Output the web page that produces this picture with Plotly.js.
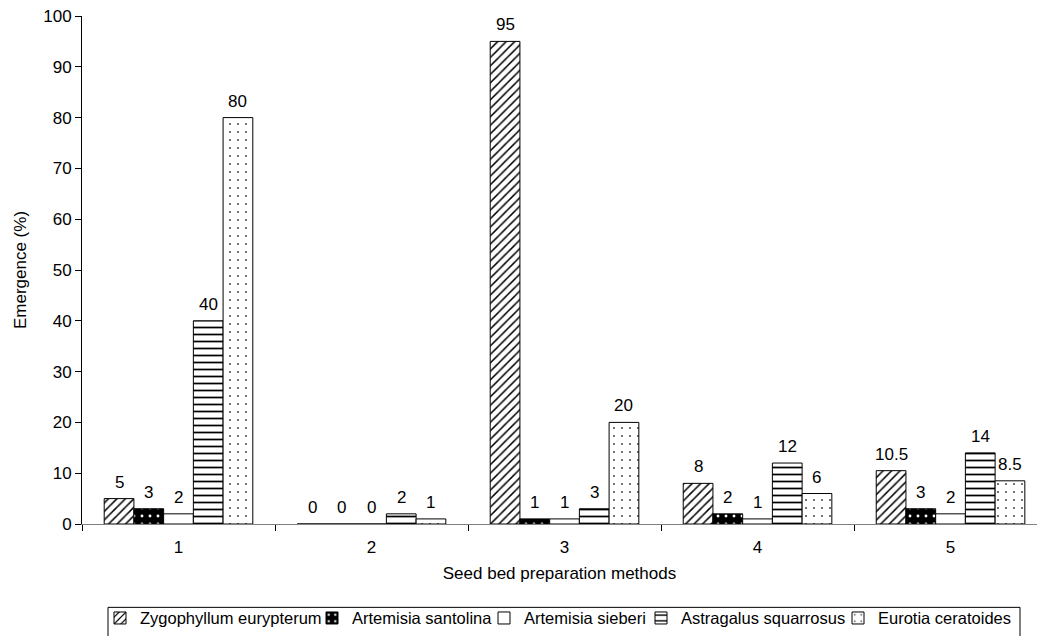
<!DOCTYPE html>
<html>
<head>
<meta charset="utf-8">
<script src="https://cdn.plot.ly/plotly-3.0.1.min.js"></script>
<style>html,body{margin:0;padding:0;background:#fff;}#chart{width:1037px;height:636px;}</style>
</head>
<body>
<div id="chart"></div>
<script>
const categories = ["1", "2", "3", "4", "5"];
const zygophyllum = [5, 0, 95, 8, 10.5];
const santolina = [3, 0, 1, 2, 3];
const sieberi = [2, 0, 1, 1, 2];
const astragalus = [40, 2, 3, 12, 14];
const eurotia = [80, 1, 20, 6, 8.5];
const seriesNames = ["Zygophyllum eurypterum", "Artemisia santolina", "Artemisia sieberi", "Astragalus squarrosus", "Eurotia ceratoides"];
const seriesValues = [zygophyllum, santolina, sieberi, astragalus, eurotia];

const patterns = [
  {shape: "/", fgcolor: "#000", bgcolor: "#fff", size: 6, solidity: 0.25},
  {shape: ".", fgcolor: "#fff", bgcolor: "#000", size: 8, solidity: 0.1},
  {shape: "", fgcolor: "#000", bgcolor: "#fff"},
  {shape: "-", fgcolor: "#000", bgcolor: "#fff", size: 7, solidity: 0.25},
  {shape: ".", fgcolor: "#444", bgcolor: "#fff", size: 8, solidity: 0.05}
];

const font = "Liberation Sans, Arial, sans-serif";

// layout geometry
const W = 1037, H = 636;
const mL = 82, mR = 0, mT = 16, mB = 108;
const plotW = W - mL - mR, plotH = H - mT - mB;
const pxToPaperX = px => (px - mL) / plotW;
const pxToPaperY = py => (H - mB - py) / plotH;
const bargap = 0.23;
const xRange = [-0.5, 4.448];
const catPx = plotW / (xRange[1] - xRange[0]);
const barPx = catPx * (1 - bargap) / seriesValues.length;

// legend symbol left edges (px) for the separate legends
const legendSymbolLeft = [114, 326, 498, 655, 852];
const legendNames = ["legend", "legend2", "legend3", "legend4", "legend5"];

const traces = seriesValues.map((vals, i) => ({
  type: "bar",
  name: seriesNames[i],
  x: categories,
  y: vals,
  legend: legendNames[i],
  marker: {
    color: "#fff",
    line: {color: "#000", width: 1},
    pattern: patterns[i]
  },
  hoverinfo: "x+y+name"
}));

const annotations = [];
seriesValues.forEach((vals, i) => {
  vals.forEach((v, j) => {
    annotations.push({
      x: j, y: v, xref: "x", yref: "y",
      text: String(v), showarrow: false,
      xanchor: "center", yanchor: "bottom",
      xshift: (i - (seriesValues.length - 1) / 2) * barPx,
      yshift: 5,
      font: {family: font, size: 17, color: "#000"}
    });
  });
});

const layout = {
  width: W,
  height: H,
  margin: {l: mL, r: mR, t: mT, b: mB},
  paper_bgcolor: "#fff",
  plot_bgcolor: "#fff",
  font: {family: font, size: 17, color: "#000"},
  barmode: "group",
  bargap: bargap,
  bargroupgap: 0,
  showlegend: true,
  annotations: annotations,
  shapes: [{
    type: "rect", xref: "paper", yref: "paper",
    x0: pxToPaperX(108), x1: pxToPaperX(1020),
    y0: pxToPaperY(612), y1: pxToPaperY(645),
    line: {color: "#000", width: 1}, fillcolor: "rgba(0,0,0,0)", layer: "below"
  }],
  xaxis: {
    type: "category",
    range: xRange,
    showline: true,
    linecolor: "#808080",
    linewidth: 1,
    ticks: "outside",
    tickson: "boundaries",
    ticklen: 6,
    tickcolor: "#000",
    ticklabelstandoff: 8,
    showgrid: false,
    zeroline: false,
    tickfont: {family: font, size: 17},
    title: {text: "Seed bed preparation methods", font: {family: font, size: 17}, standoff: 10}
  },
  yaxis: {
    range: [0, 100],
    dtick: 10,
    showline: true,
    linecolor: "#000",
    linewidth: 1,
    ticks: "outside",
    ticklen: 6,
    tickcolor: "#000",
    showgrid: false,
    zeroline: false,
    tickfont: {family: font, size: 17},
    title: {text: "Emergence (%)", font: {family: font, size: 17}, standoff: 12}
  }
};

legendNames.forEach((ln, i) => {
  layout[ln] = {
    orientation: "h",
    x: pxToPaperX(legendSymbolLeft[i] - 14),
    xanchor: "left",
    y: pxToPaperY(623),
    yanchor: "middle",
    bgcolor: "rgba(0,0,0,0)",
    borderwidth: 0,
    font: {family: font, size: 16.5},
    itemwidth: 30
  };
});

Plotly.newPlot("chart", traces, layout, {displayModeBar: false, staticPlot: true});
</script>
</body>
</html>
